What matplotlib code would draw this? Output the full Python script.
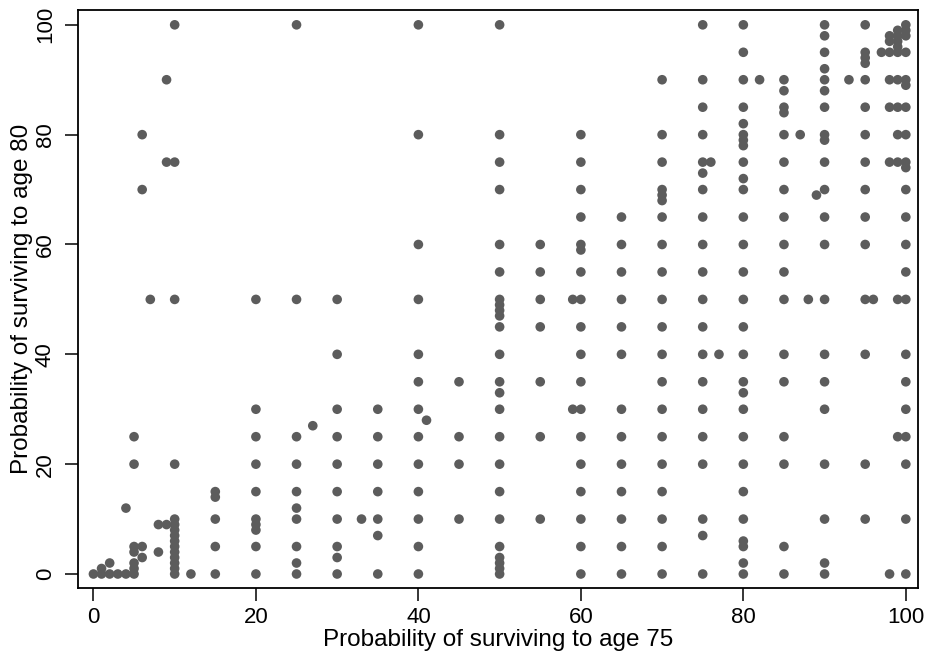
import numpy as np
import matplotlib
matplotlib.use('Agg')
import matplotlib.pyplot as plt

# (prob. surviving to 75, [prob. surviving to 80 ...])
band_0_15 = [
    (0, [0]),
    (1, [0, 1]),
    (2, [0, 2]),
    (3, [0]),
    (4, [0, 12]),
    (5, [0, 1, 2, 4, 5, 20, 25]),
    (6, [3, 5, 70, 80]),
    (7, [50]),
    (8, [4, 9]),
    (9, [9, 75, 90]),
    (10, [0, 1, 2, 3, 4, 5, 6, 7, 8, 9, 10, 20, 50, 75, 100]),
    (12, [0]),
    (15, [0, 5, 10, 14, 15]),
]
band_20_45 = [
    (20, [0, 5, 8, 9, 10, 15, 20, 25, 30, 50]),
    (25, [0, 2, 5, 10, 12, 15, 20, 25, 50, 100]),
    (27, [27]),
    (30, [0, 3, 5, 10, 15, 20, 25, 30, 40, 50]),
    (33, [10]),
    (35, [0, 7, 10, 15, 20, 25, 30]),
    (40, [0, 5, 10, 15, 20, 25, 30, 35, 40, 50, 60, 80, 100]),
    (41, [28]),
    (45, [10, 20, 25, 35]),
]
band_50_65 = [
    (50, [0, 1, 2, 3, 5, 10, 15, 20, 25, 30, 33, 35, 40, 45, 47, 48, 49, 50,
          55, 60, 70, 75, 80, 100]),
    (55, [10, 25, 35, 45, 50, 55, 60]),
    (59, [30, 50]),
    (60, [0, 5, 10, 15, 20, 25, 30, 35, 40, 45, 50, 55, 59, 60, 65, 70, 75, 80]),
    (65, [0, 5, 10, 15, 20, 25, 30, 40, 45, 50, 55, 60, 65]),
]
band_70_89 = [
    (70, [0, 5, 10, 15, 20, 25, 30, 35, 40, 45, 50, 55, 60, 65, 68, 69, 70,
          75, 80, 90]),
    (75, [0, 7, 10, 20, 25, 30, 35, 40, 45, 50, 55, 60, 65, 70, 73, 75, 80,
          85, 90, 100]),
    (76, [75]),
    (77, [40]),
    (80, [0, 2, 5, 6, 10, 15, 20, 25, 30, 33, 35, 40, 45, 50, 55, 60, 65, 70,
          72, 75, 78, 79, 80, 82, 85, 90, 95, 100]),
    (82, [90]),
    (85, [0, 5, 20, 25, 35, 40, 50, 55, 60, 65, 70, 75, 80, 84, 85, 88, 90]),
    (87, [80]),
    (88, [50]),
    (89, [69]),
]
band_90_100 = [
    (90, [0, 2, 10, 20, 30, 35, 40, 50, 60, 65, 70, 75, 79, 80, 85, 88, 90,
          92, 95, 98, 100]),
    (93, [90]),
    (95, [10, 20, 40, 50, 60, 65, 70, 75, 80, 85, 90, 93, 94, 95, 100]),
    (96, [50]),
    (97, [95]),
    (98, [0, 75, 85, 90, 95, 97, 98]),
    (99, [25, 50, 75, 80, 85, 90, 95, 96, 97, 98, 99]),
    (100, [0, 10, 20, 25, 30, 35, 40, 50, 55, 60, 65, 70, 74, 75, 80, 85, 89,
           90, 95, 98, 99, 100]),
]

x_ticks = [0, 20, 40, 60, 80, 100]
y_ticks = [0, 20, 40, 60, 80, 100]
x_title = 'Probability of surviving to age 75'
y_title = 'Probability of surviving to age 80'


def flatten(*bands):
    xs, ys = [], []
    for band in bands:
        for x, col in band:
            xs.extend([x] * len(col))
            ys.extend(col)
    return np.array(xs, float), np.array(ys, float)


plt.rcParams['font.family'] = ['Liberation Sans', 'DejaVu Sans']

surv75, surv80 = flatten(band_0_15, band_20_45, band_50_65, band_70_89, band_90_100)

fig = plt.figure(figsize=(9.28, 6.58), dpi=100)
ax = fig.add_axes([78 / 928, 70 / 658, 840 / 928, 578 / 658])

ax.scatter(surv75, surv80, s=48, color='#5c5c5c', edgecolors='none', zorder=3)

ax.set_xlim(-1.9, 101.5)
ax.set_ylim(-2.55, 102.7)
ax.set_xticks(x_ticks)
ax.set_yticks(y_ticks)
ax.tick_params(axis='both', direction='out', length=9.5, width=1.1, labelsize=16,
               colors='black')
ax.tick_params(axis='x', pad=4.5)
ax.tick_params(axis='y', pad=6.5, labelrotation=90)
for lab in ax.get_yticklabels():
    lab.set_va('center')

for sp in ax.spines.values():
    sp.set_linewidth(1.3)
    sp.set_color('black')

ax.set_xlabel(x_title, fontsize=17.5, labelpad=0.5)
ax.set_ylabel(y_title, fontsize=17.5, labelpad=1)

fig.savefig('out.png', dpi=100, facecolor='white')
